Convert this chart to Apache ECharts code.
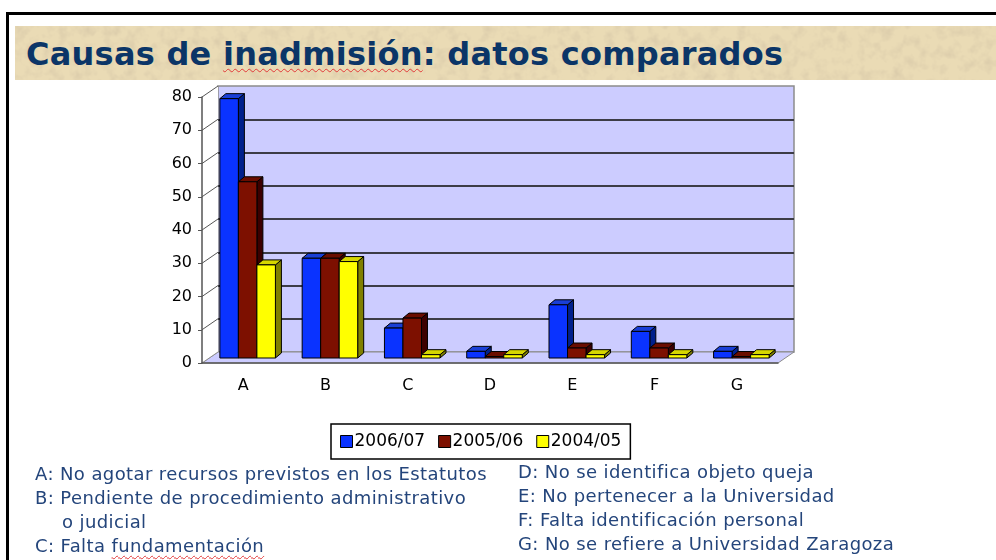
<!DOCTYPE html>
<html>
<head>
<meta charset="utf-8">
<script src="https://cdn.jsdelivr.net/npm/echarts@6/dist/echarts.min.js"></script>
<style>
  html, body { margin: 0; padding: 0; background: #fff; }
  #wrap { position: relative; width: 996px; height: 560px; overflow: hidden; }
  #chart { position: absolute; left: 0; top: 0; width: 996px; height: 560px; }
  .frame {
    position: absolute; left: 6px; top: 12px; width: 1000px; height: 600px;
    border-top: 3px solid #000; border-left: 3px solid #000;
  }
  .banner {
    position: absolute; left: 15px; top: 26px; width: 981px; height: 54px;
    background-color: #eadbb5;
    background-image: url("data:image/svg+xml;utf8,<svg xmlns='http://www.w3.org/2000/svg' width='981' height='54'><filter id='n'><feTurbulence type='fractalNoise' baseFrequency='0.09' numOctaves='3' seed='4'/><feColorMatrix values='0 0 0 0 0.62  0 0 0 0 0.52  0 0 0 0 0.36  0 0 0 -1.1 0.62'/></filter><rect width='100%' height='100%' filter='url(%23n)'/></svg>");
  }
  .title {
    position: absolute; left: 26px; top: 38px; margin: 0;
    font: bold 32px/32px "DejaVu Sans", sans-serif; letter-spacing: 0.25px;
    color: #0b3567; white-space: nowrap;
  }
  .notes {
    position: absolute; margin: 0;
    font: 18px/24px "DejaVu Sans", sans-serif; letter-spacing: 0.4px;
    color: #24457b; white-space: nowrap;
  }
  .sq { text-decoration: underline wavy #e23a3a; text-decoration-thickness: 1px; text-underline-offset: 3px; }
</style>
</head>
<body>
<div id="wrap">
  <div class="frame"></div>
  <div class="banner"></div>
  <div class="title">Causas de <span class="sq">inadmisión</span>: datos comparados</div>
  <div id="chart"></div>
  <div class="notes" style="left:35px; top:462px;">
    A: No agotar recursos previstos en los Estatutos<br>
    B: Pendiente de procedimiento administrativo<br>
    <span style="padding-left:27px">o judicial</span><br>
    C: Falta <span class="sq">fundamentación</span>
  </div>
  <div class="notes" style="left:518px; top:460px;">
    D: No se identifica objeto queja<br>
    E: No pertenecer a la Universidad<br>
    F: Falta identificación personal<br>
    G: No se refiere a Universidad Zaragoza
  </div>
</div>
<script>
  // data
  const categories = ['A', 'B', 'C', 'D', 'E', 'F', 'G'];
  const seriesNames = ['2006/07', '2005/06', '2004/05'];
  const values0607 = [78, 30, 9, 2, 16, 8, 2];
  const values0506 = [53, 30, 12, 0, 3, 3, 0];
  const values0405 = [28, 29, 1, 1, 1, 1, 1];
  const yTicks = [0, 10, 20, 30, 40, 50, 60, 70, 80];

  // bar faces: front / top / side
  const FACES = [
    { front: '#0a33ff', top: '#1a3fd6', side: '#00208c' },
    { front: '#7d1000', top: '#6a0d00', side: '#3c0000' },
    { front: '#ffff00', top: '#d6d600', side: '#808000' },
  ];
  const WALL_DEPTH = [16, -11];   // back wall offset from front plane
  const BAR_SHIFT = [4.5, -5];    // bars sit a bit behind the front plane
  const BAR_DEPTH = [6, -5];
  const BAR_RATIO = 0.225;
  const FONT = '"DejaVu Sans", sans-serif';

  const chart = echarts.init(document.getElementById('chart'), null, { renderer: 'canvas' });

  function wallsRenderer(params, api) {
    const cs = params.coordSys;
    const x = cs.x, y = cs.y, w = cs.width, h = cs.height;
    const [dx, dy] = WALL_DEPTH;
    const children = [
      {
        type: 'polygon',
        shape: { points: [[x, y + h], [x + w, y + h], [x + w + dx, y + h + dy], [x + dx, y + h + dy]] },
        style: { fill: '#ccccff', stroke: '#8c8c8c', lineWidth: 1 },
      },
      {
        type: 'polygon',
        shape: { points: [[x, y], [x + dx, y + dy], [x + dx, y + h + dy], [x, y + h]] },
        style: { fill: '#ffffff' },
      },
    ];
    yTicks.forEach((v) => {
      const yv = api.coord([0, v])[1];
      children.push({
        type: 'line',
        shape: { x1: x, y1: yv, x2: x + dx, y2: yv + dy },
        style: { stroke: v === 0 ? '#8c8c8c' : '#555', lineWidth: 1 },
      });
    });
    return { type: 'group', children };
  }

  function barRenderer(slot) {
    const face = FACES[slot];
    return function (params, api) {
      const cat = api.value(0);
      const top = api.coord([cat, api.value(1)]);
      const base = api.coord([cat, 0]);
      const band = api.size([1, 0])[0];
      const w = band * BAR_RATIO;
      const x0 = base[0] - 1.5 * w + slot * w + BAR_SHIFT[0];
      const x1 = x0 + w;
      const yb = base[1] + BAR_SHIFT[1];
      const yt = Math.min(top[1] + BAR_SHIFT[1], yb - 1.5);
      const [dx, dy] = BAR_DEPTH;
      const edge = { stroke: '#000', lineWidth: 1 };
      return {
        type: 'group',
        children: [
          {
            type: 'polygon',
            shape: { points: [[x1, yb], [x1 + dx, yb + dy], [x1 + dx, yt + dy], [x1, yt]] },
            style: Object.assign({ fill: face.side }, edge),
          },
          {
            type: 'polygon',
            shape: { points: [[x0, yt], [x1, yt], [x1 + dx, yt + dy], [x0 + dx, yt + dy]] },
            style: Object.assign({ fill: face.top }, edge),
          },
          {
            type: 'rect',
            shape: { x: x0, y: yt, width: w, height: yb - yt },
            style: Object.assign({ fill: face.front }, edge),
          },
        ],
      };
    };
  }

  const seriesValues = [values0607, values0506, values0405];

  const option = {
    animation: false,
    backgroundColor: 'transparent',
    grid: [
      { left: 202, top: 97, width: 576, height: 266 },
      {
        left: 218, top: 86, width: 576, height: 266,
        show: true, backgroundColor: '#ccccff', borderColor: '#8c8c8c', borderWidth: 1.5,
      },
    ],
    xAxis: [
      {
        gridIndex: 0,
        type: 'category',
        data: categories,
        axisLine: { lineStyle: { color: '#555', width: 1.5 } },
        axisTick: { length: 5, lineStyle: { color: '#555' } },
        axisLabel: { margin: 15, fontSize: 16, fontFamily: FONT, color: '#000' },
        z: 5,
      },
      { gridIndex: 1, type: 'category', data: categories, show: false },
    ],
    yAxis: [
      {
        gridIndex: 0,
        type: 'value',
        min: 0,
        max: 80,
        interval: 10,
        axisLine: { show: true, lineStyle: { color: '#555', width: 1.5 } },
        axisTick: { show: true, length: 4, lineStyle: { color: '#555' } },
        axisLabel: { margin: 10, fontSize: 16, fontFamily: FONT, color: '#000' },
        splitLine: { show: false },
        z: 5,
      },
      {
        gridIndex: 1,
        type: 'value',
        min: 0,
        max: 80,
        interval: 10,
        axisLine: { show: false },
        axisTick: { show: false },
        axisLabel: { show: false },
        splitLine: {
          show: true, showMinLine: false, showMaxLine: false,
          lineStyle: { color: '#3c3c46', width: 2 },
        },
      },
    ],
    legend: {
      data: seriesNames,
      left: 331,
      top: 424,
      orient: 'horizontal',
      backgroundColor: '#fff',
      borderColor: '#000',
      borderWidth: 1.5,
      borderRadius: 0,
      padding: [9, 9],
      itemGap: 13,
      itemWidth: 12,
      itemHeight: 12,
      icon: 'rect',
      itemStyle: { borderColor: '#000', borderWidth: 1 },
      textStyle: { fontFamily: FONT, fontSize: 17, color: '#000', padding: [0, 0, 0, -3] },
      selectedMode: false,
    },
    series: [
      {
        type: 'custom',
        name: 'walls',
        xAxisIndex: 0,
        yAxisIndex: 0,
        silent: true,
        z: 1,
        clip: false,
        renderItem: wallsRenderer,
        data: [[0, 0]],
      },
    ].concat(seriesNames.map((name, slot) => ({
      type: 'custom',
      name,
      xAxisIndex: 0,
      yAxisIndex: 0,
      z: 3,
      clip: false,
      itemStyle: { color: FACES[slot].front, borderColor: '#000', borderWidth: 1 },
      renderItem: barRenderer(slot),
      data: seriesValues[slot].map((v, i) => [i, v]),
    }))),
  };

  chart.setOption(option);
</script>
</body>
</html>
